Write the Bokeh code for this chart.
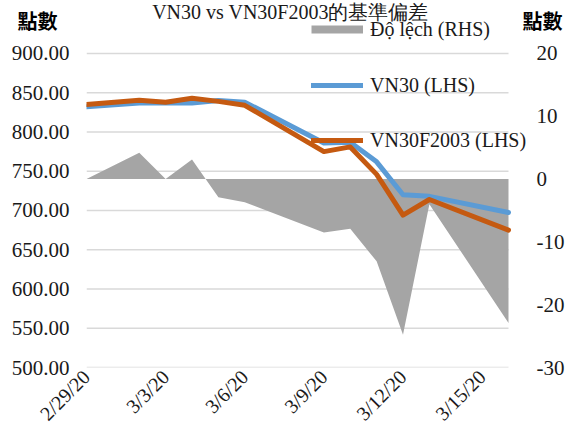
import math
import pandas as pd
from bokeh.plotting import figure
from bokeh.layouts import column
from bokeh.models import (Range1d, LinearAxis, FixedTicker, NumeralTickFormatter,
                          CustomJSTickFormatter, Legend, LegendItem, Label, ColumnDataSource)
from bokeh.embed import file_html
from bokeh.resources import INLINE

# ---- data ----
dates = ["2020-02-29", "2020-03-02", "2020-03-03", "2020-03-04", "2020-03-05", "2020-03-06",
         "2020-03-09", "2020-03-10", "2020-03-11", "2020-03-12", "2020-03-13", "2020-03-16"]
vn30 = [832, 837, 837, 837, 840, 838, 786, 787, 762, 720, 718, 697.5]
vn30f2003 = [835, 840.5, 838, 843, 839, 834, 775, 781, 746, 694, 714, 675]
deviation = [0, 4.2, 0, 3.1, -2.9, -3.7, -8.5, -7.9, -13.1, -24.8, -4.0, -22.9]

x_tick_dates = ["2020-02-29", "2020-03-03", "2020-03-06", "2020-03-09", "2020-03-12", "2020-03-15"]
left_ticks = [500, 550, 600, 650, 700, 750, 800, 850, 900]
right_ticks = [-30, -20, -10, 0, 10, 20]

title_text = "VN30 vs VN30F2003的基準偏差"
axis_unit = "點數"
series_names = ["Độ lệch (RHS)", "VN30 (LHS)", "VN30F2003 (LHS)"]

# ---- style / layout constants ----
SERIF = "Liberation Serif"
TXT = "#1a1a1a"
GRAY, BLUE, ORANGE = "#a5a5a5", "#5b9bd5", "#c55a11"
W = 574
TOP_H = 42
MAIN_H = 435 - TOP_H
MAIN_TOP = 8                                # main canvas px above the frame
PLOT_L, PLOT_R, FRAME_R = 86, 508, 530      # data area left/right, frame right (px)
GRID_TOP_PAD = 3                            # px between frame top and top gridline
FRAME_H = 319
BOTTOM = MAIN_H - MAIN_TOP - FRAME_H

d = pd.to_datetime(dates)
src = ColumnDataSource(dict(date=d, vn30=vn30, vn30f=vn30f2003, dev=deviation))

# ---- top strip: title, unit labels, first legend entry ----
# the strip's ranges are in page pixels so that the side labels can be placed
top = figure(width=W, height=TOP_H, x_range=Range1d(PLOT_L, FRAME_R), y_range=Range1d(TOP_H, 0),
             x_axis_type=None, y_axis_type=None, output_backend="svg",
             toolbar_location=None, min_border=0)
top.min_border_left = PLOT_L
top.min_border_right = W - FRAME_R
top.min_border_top = top.min_border_bottom = 0
top.outline_line_color = None
top.grid.visible = False
top.background_fill_color = "white"
top.border_fill_color = "white"

top.add_layout(Label(x=290 - PLOT_L, y=TOP_H, x_units="screen", y_units="screen",
                     text=title_text, text_font=SERIF, text_font_size="20px",
                     text_align="center", text_baseline="top", text_color=TXT))
top.add_layout(Label(x=17, y=20, text=axis_unit, text_font="Noto Sans CJK TC",
                     text_font_style="bold", text_font_size="20px", text_align="left",
                     text_baseline="middle", text_color="#000000"), "left")
top.add_layout(Label(x=522, y=20, text=axis_unit, text_font="Noto Sans CJK TC",
                     text_font_style="bold", text_font_size="20px", text_align="left",
                     text_baseline="middle", text_color="#000000"), "right")
# deviation series drawn in the strip only to provide its legend key (outside the strip's view)
gray_key = top.line("date", "dev", source=src, line_color=GRAY, line_width=8, line_cap="butt")
top.add_layout(Legend(items=[LegendItem(label=series_names[0], renderers=[gray_key])],
                      location=(311 - PLOT_L, 1), glyph_width=52, glyph_height=20,
                      label_height=24, label_standoff=7, padding=0, margin=0,
                      border_line_color=None, background_fill_alpha=0,
                      label_text_font=SERIF, label_text_font_size="20px",
                      label_text_color=TXT))

# ---- main chart ----
span = d[-1] - d[0]
x_end = d[-1] + span * ((FRAME_R - PLOT_R) / (PLOT_R - PLOT_L))
plot_px = FRAME_H - GRID_TOP_PAD
l_lo, l_hi = left_ticks[0], left_ticks[-1]
r_lo, r_hi = right_ticks[0], right_ticks[-1]
l_top = l_hi + (l_hi - l_lo) * GRID_TOP_PAD / plot_px
r_top = r_hi + (r_hi - r_lo) * GRID_TOP_PAD / plot_px

p = figure(width=W, height=MAIN_H, x_axis_type="datetime",
           x_range=Range1d(d[0], x_end), y_range=Range1d(l_lo, l_top),
           output_backend="svg", toolbar_location=None,
           min_border_left=PLOT_L, min_border_right=W - FRAME_R,
           min_border_top=MAIN_TOP, min_border_bottom=BOTTOM)
p.outline_line_color = None
p.background_fill_color = "white"
p.border_fill_color = "white"
p.extra_y_ranges = {"right": Range1d(r_lo, r_top)}

left_axis = p.left[0]
left_axis.ticker = FixedTicker(ticks=left_ticks)
left_axis.formatter = NumeralTickFormatter(format="0.00")
left_axis.major_label_standoff = 17

right_axis = LinearAxis(y_range_name="right", ticker=FixedTicker(ticks=right_ticks),
                        formatter=NumeralTickFormatter(format="0"))
right_axis.major_label_standoff = 6
p.add_layout(right_axis, "right")

xaxis = p.below[0]
xaxis.ticker = FixedTicker(ticks=[pd.Timestamp(t).value // 10**6 for t in x_tick_dates])
xaxis.formatter = CustomJSTickFormatter(code="""
const d = new Date(tick);
return (d.getUTCMonth()+1) + '/' + d.getUTCDate() + '/' + String(d.getUTCFullYear()).slice(2);
""")
xaxis.major_label_orientation = math.pi / 4
xaxis.major_label_standoff = 6

for ax, fs in ((left_axis, "21px"), (right_axis, "21px"), (xaxis, "20px")):
    ax.axis_line_color = None
    ax.major_tick_line_color = None
    ax.minor_tick_line_color = None
    ax.major_tick_out = 0
    ax.major_tick_in = 0
    ax.major_label_text_font = SERIF
    ax.major_label_text_font_size = fs
    ax.major_label_text_color = TXT

p.xgrid.visible = False
p.ygrid.visible = False

# horizontal gridlines spanning the data period only
grid_src = ColumnDataSource(dict(y=left_ticks, x0=[d[0]] * len(left_ticks),
                                 x1=[d[-1]] * len(left_ticks)))
p.segment(x0="x0", x1="x1", y0="y", y1="y", source=grid_src,
          line_color="#d9d9d9", line_width=1.5)

# ---- glyphs ----
p.varea(x="date", y1=0, y2="dev", source=src, y_range_name="right",
        fill_color=GRAY, fill_alpha=1)
blue = p.line("date", "vn30", source=src, line_color=BLUE, line_width=5,
              line_join="round", line_cap="round")
orange = p.line("date", "vn30f", source=src, line_color=ORANGE, line_width=5,
                line_join="round", line_cap="round")

p.add_layout(Legend(items=[LegendItem(label=series_names[1], renderers=[blue]),
                           LegendItem(label=series_names[2], renderers=[orange])],
                    location=(311 - PLOT_L, 215), orientation="vertical",
                    glyph_width=52, glyph_height=20, label_height=24, label_standoff=7,
                    spacing=31, padding=0, margin=0, border_line_color=None,
                    background_fill_alpha=0, label_text_font=SERIF,
                    label_text_font_size="20px", label_text_color=TXT))

layout = column(top, p, spacing=0)
open("out.html", "w").write(file_html(layout, INLINE))
